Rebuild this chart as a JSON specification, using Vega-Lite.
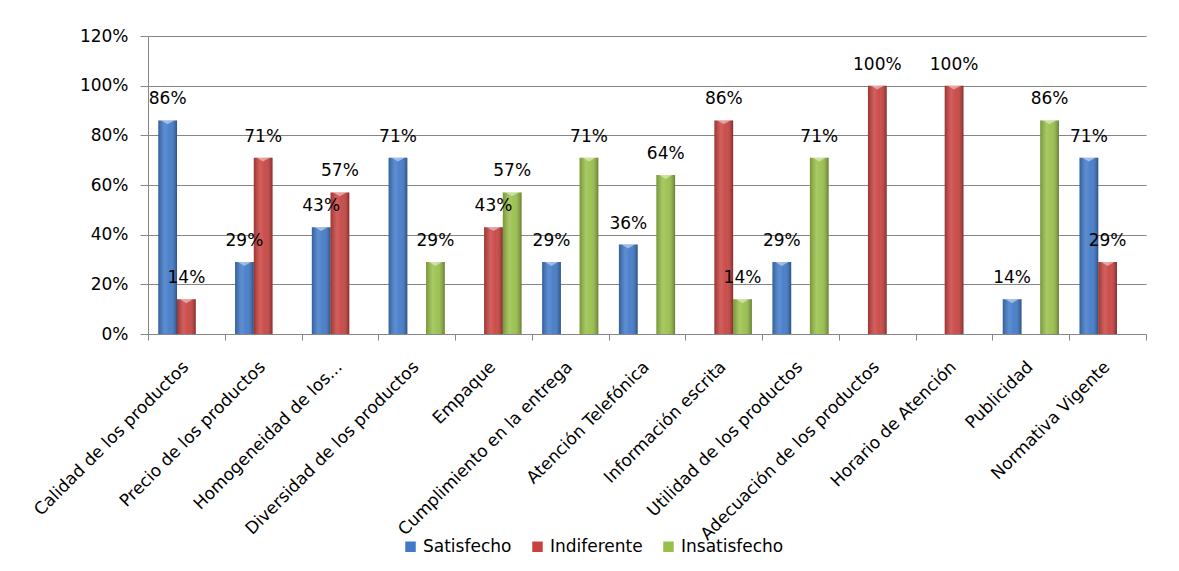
{
  "$schema": "https://vega.github.io/schema/vega-lite/v6.json",
  "autosize": {"type": "none"},
  "width": 998,
  "height": 298,
  "padding": {"left": 148, "top": 36, "right": 33, "bottom": 237},
  "background": "white",
  "config": {
    "view": {"stroke": null},
    "font": "DejaVu Sans",
    "axis": {"labelFont": "DejaVu Sans", "labelColor": "#000000"},
    "legend": {"labelFont": "DejaVu Sans"}
  },
  "data": {
    "values": [
      {"aspecto": "Calidad de los productos", "nivel": "Satisfecho", "pct": 0.86},
      {"aspecto": "Calidad de los productos", "nivel": "Indiferente", "pct": 0.14},
      {"aspecto": "Precio de los productos", "nivel": "Satisfecho", "pct": 0.29},
      {"aspecto": "Precio de los productos", "nivel": "Indiferente", "pct": 0.71},
      {"aspecto": "Homogeneidad de los...", "nivel": "Satisfecho", "pct": 0.43},
      {"aspecto": "Homogeneidad de los...", "nivel": "Indiferente", "pct": 0.57},
      {"aspecto": "Diversidad de los productos", "nivel": "Satisfecho", "pct": 0.71},
      {"aspecto": "Diversidad de los productos", "nivel": "Insatisfecho", "pct": 0.29},
      {"aspecto": "Empaque", "nivel": "Indiferente", "pct": 0.43},
      {"aspecto": "Empaque", "nivel": "Insatisfecho", "pct": 0.57},
      {"aspecto": "Cumplimiento en la entrega", "nivel": "Satisfecho", "pct": 0.29},
      {"aspecto": "Cumplimiento en la entrega", "nivel": "Insatisfecho", "pct": 0.71},
      {"aspecto": "Atención Telefónica", "nivel": "Satisfecho", "pct": 0.36},
      {"aspecto": "Atención Telefónica", "nivel": "Insatisfecho", "pct": 0.64},
      {"aspecto": "Información escrita", "nivel": "Indiferente", "pct": 0.86},
      {"aspecto": "Información escrita", "nivel": "Insatisfecho", "pct": 0.14},
      {"aspecto": "Utilidad de los productos", "nivel": "Satisfecho", "pct": 0.29},
      {"aspecto": "Utilidad de los productos", "nivel": "Insatisfecho", "pct": 0.71},
      {"aspecto": "Adecuación de los productos", "nivel": "Indiferente", "pct": 1.0},
      {"aspecto": "Horario de Atención", "nivel": "Indiferente", "pct": 1.0},
      {"aspecto": "Publicidad", "nivel": "Satisfecho", "pct": 0.14},
      {"aspecto": "Publicidad", "nivel": "Insatisfecho", "pct": 0.86},
      {"aspecto": "Normativa Vigente", "nivel": "Satisfecho", "pct": 0.71},
      {"aspecto": "Normativa Vigente", "nivel": "Indiferente", "pct": 0.29}
    ]
  },
  "encoding": {
    "x": {
      "field": "aspecto",
      "type": "nominal",
      "sort": null,
      "title": null,
      "scale": {"paddingInner": 0, "paddingOuter": 0},
      "axis": {
        "tickBand": "extent",
        "labelAngle": -45,
        "labelAlign": "right",
        "labelBaseline": "middle",
        "labelFontSize": 17,
        "labelOffset": -1,
        "labelPadding": 24,
        "labelLimit": 400,
        "labelOverlap": false,
        "tickSize": 6,
        "tickColor": "#868686",
        "domainColor": "#868686",
        "grid": false
      }
    },
    "xOffset": {
      "field": "nivel",
      "type": "nominal",
      "scale": {
        "domain": ["Satisfecho", "Indiferente", "Insatisfecho"],
        "paddingInner": 0,
        "paddingOuter": 0.55
      }
    },
    "y": {
      "field": "pct",
      "type": "quantitative",
      "title": null,
      "scale": {"domain": [0, 1.2], "nice": false},
      "axis": {
        "values": [0, 0.2, 0.4, 0.6, 0.8, 1.0, 1.2],
        "format": ".0%",
        "labelFontSize": 17,
        "labelPadding": 12,
        "tickSize": 8,
        "tickColor": "#868686",
        "domainColor": "#868686",
        "gridColor": "#868686",
        "gridWidth": 1
      }
    }
  },
  "layer": [
    {
      "mark": {"type": "bar"},
      "encoding": {
        "color": {
          "field": "nivel",
          "type": "nominal",
          "scale": {
            "domain": ["Satisfecho", "Indiferente", "Insatisfecho"],
            "range": ["#4079c8", "#c8423f", "#98bf48"]
          },
          "legend": {
            "title": null,
            "orient": "none",
            "direction": "horizontal",
            "columns": 3,
            "legendX": 254,
            "legendY": 502,
            "symbolType": "square",
            "symbolSize": 110,
            "symbolStrokeWidth": 0,
            "labelFontSize": 17,
            "labelColor": "#000000",
            "labelOffset": 4,
            "columnPadding": 17
          }
        }
      }
    },
    {
      "mark": {
        "type": "bar",
        "fill": {
          "gradient": "linear",
          "x1": 0, "y1": 0, "x2": 1, "y2": 0,
          "stops": [
            {"offset": 0, "color": "rgba(0,0,0,0.22)"},
            {"offset": 0.35, "color": "rgba(255,255,255,0.16)"},
            {"offset": 0.6, "color": "rgba(255,255,255,0.06)"},
            {"offset": 1, "color": "rgba(0,0,0,0.34)"}
          ]
        }
      }
    },
    {
      "mark": {
        "type": "point",
        "shape": "M-1,0L1,0L0,0.6Z",
        "size": 169,
        "filled": true,
        "fill": "white",
        "opacity": 0.45,
        "strokeWidth": 0
      }
    },
    {
      "mark": {
        "type": "text",
        "fontSize": 17,
        "font": "DejaVu Sans",
        "color": "#000000",
        "baseline": "middle",
        "dy": -21
      },
      "encoding": {
        "text": {"field": "pct", "type": "quantitative", "format": ".0%"}
      }
    }
  ]
}
